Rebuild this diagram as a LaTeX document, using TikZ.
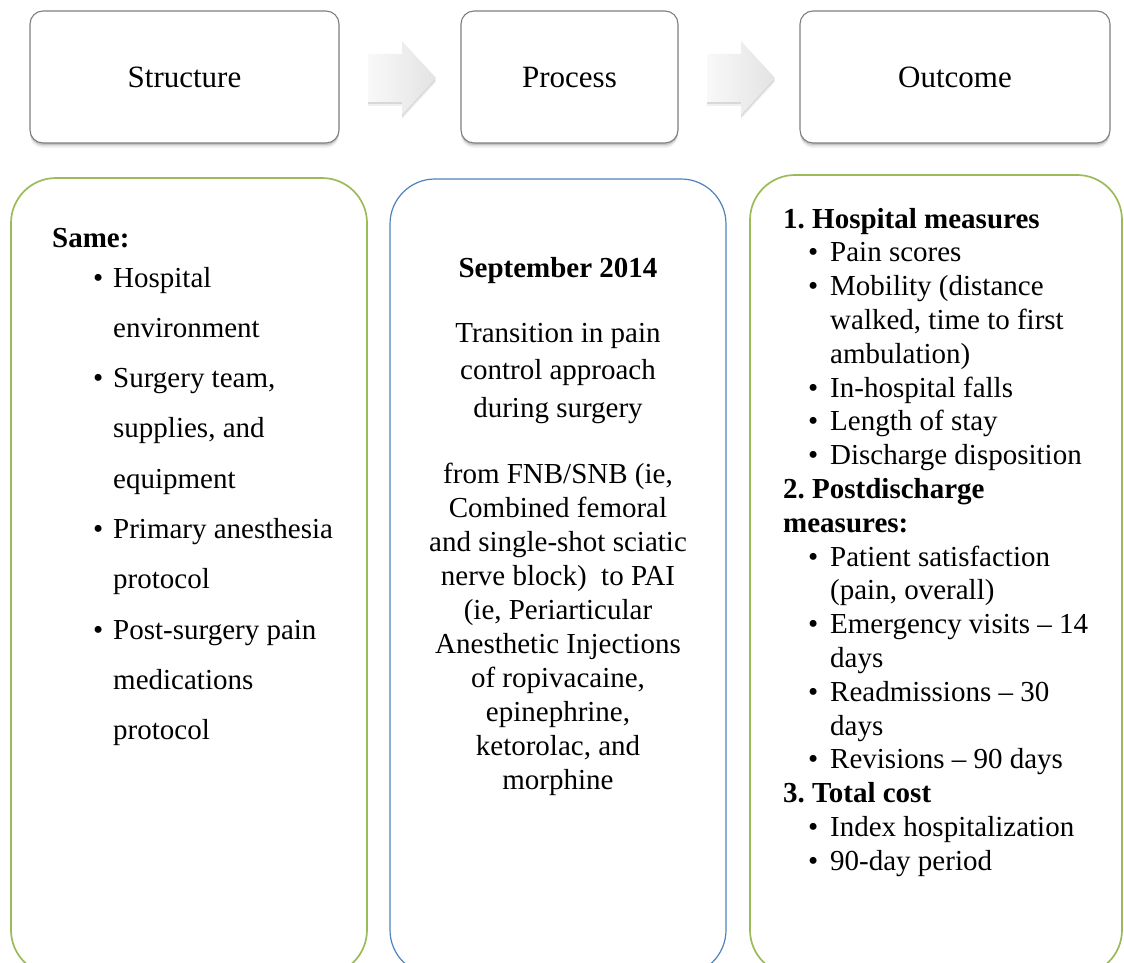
\documentclass[tikz,border=0pt]{standalone}
\usepackage{fontspec}
\setmainfont{Liberation Serif}
\frenchspacing
\definecolor{boxgreen}{HTML}{9BBB59}
\definecolor{boxblue}{HTML}{4F81BD}
\definecolor{topborder}{HTML}{7F7F7F}
\newcommand\bulL{\hspace*{41pt}\makebox[20pt][l]{\textbullet}}
\newcommand\indL{\hspace*{61pt}}
\newcommand\bulR{\hspace*{25pt}\makebox[22pt][l]{\textbullet}}
\newcommand\indR{\hspace*{47pt}}
\begin{document}
\begin{tikzpicture}[x=1pt,y=-1pt,
  topbox/.style={draw=topborder, line width=1.1pt, fill=white, rounded corners=13pt,
    inner sep=0pt, font=\fontsize{31}{36}\selectfont, text height=21pt, text depth=0pt,
    preaction={fill=black, opacity=0.05, transform canvas={yshift=-5pt}},
    preaction={fill=black, opacity=0.08, transform canvas={yshift=-3.5pt}},
    preaction={fill=black, opacity=0.12, transform canvas={yshift=-2pt}}},
  bigbox/.style={line width=1.7pt, rounded corners=45pt, inner sep=0pt},
  txt/.style={inner sep=0pt, anchor=base west},
  ctxt/.style={inner sep=0pt, anchor=base},
  blockarrow/.style={left color=gray!5, right color=gray!22,
    preaction={fill=black, opacity=0.06, transform canvas={yshift=-4pt}},
    preaction={fill=black, opacity=0.10, transform canvas={yshift=-2pt}}}
]
\useasboundingbox (0,0) rectangle (1124,963);
\clip (0,0) rectangle (1124,963);

% top boxes
\node[topbox, minimum width=309pt, minimum height=132pt] (structure) at (184.5,77) {Structure};
\node[topbox, minimum width=217pt, minimum height=132pt] (process) at (569.5,77) {Process};
\node[topbox, minimum width=310pt, minimum height=132pt] (outcome) at (955,77) {Outcome};

% block arrows
\shade[blockarrow] (368,54) -- (402,54) -- (402,41) -- (436,78) -- (402,115) -- (402,102) -- (368,102) -- cycle;
\shade[blockarrow] (707,54) -- (741,54) -- (741,41) -- (775,78) -- (741,115) -- (741,102) -- (707,102) -- cycle;

% big boxes
\node[bigbox, draw=boxgreen, minimum width=356pt, minimum height=797pt] (structbox) at (189,576.5) {};
\node[bigbox, draw=boxblue, line width=1.2pt, minimum width=336pt, minimum height=796pt] (procbox) at (558,577) {};
\node[bigbox, draw=boxgreen, minimum width=372pt, minimum height=800pt] (outbox) at (936,575) {};

% left text
\node[txt, font=\fontsize{29}{50.3}\selectfont] (samelist) at (52,247) {\begin{tabular}[t]{@{}l@{}}
\textbf{Same:}\\[-10.3pt]
\bulL Hospital\\
\indL environment\\
\bulL Surgery team,\\
\indL supplies, and\\
\indL equipment\\
\bulL Primary anesthesia\\
\indL protocol\\
\bulL Post-surgery pain\\
\indL medications\\
\indL protocol
\end{tabular}};

% middle text
\node[ctxt, font=\bfseries\fontsize{29}{34}\selectfont] (sept) at (558,277) {September 2014};
\node[ctxt, font=\fontsize{29}{37.5}\selectfont] (trans) at (558,342) {\begin{tabular}[t]{@{}c@{}}
Transition in pain\\
control approach\\
during surgery
\end{tabular}};
\node[ctxt, font=\fontsize{29}{34}\selectfont] (fromtxt) at (558,483) {\begin{tabular}[t]{@{}c@{}}
from FNB/SNB (ie,\\
Combined femoral\\
and single-shot sciatic\\
nerve block)\ \ to PAI\\
(ie, Periarticular\\
Anesthetic Injections\\
of ropivacaine,\\
epinephrine,\\
ketorolac, and\\
morphine
\end{tabular}};

% right text
\node[txt, font=\fontsize{29}{33.8}\selectfont] (outlist) at (783,228) {\begin{tabular}[t]{@{}l@{}}
\textbf{1. Hospital measures}\\
\bulR Pain scores\\
\bulR Mobility (distance\\
\indR walked, time to first\\
\indR ambulation)\\
\bulR In-hospital falls\\
\bulR Length of stay\\
\bulR Discharge disposition\\
\textbf{2. Postdischarge}\\
\textbf{measures:}\\
\bulR Patient satisfaction\\
\indR (pain, overall)\\
\bulR Emergency visits -- 14\\
\indR days\\
\bulR Readmissions -- 30\\
\indR days\\
\bulR Revisions -- 90 days\\
\textbf{3. Total cost}\\
\bulR Index hospitalization\\
\bulR 90-day period
\end{tabular}};
\end{tikzpicture}
\end{document}
